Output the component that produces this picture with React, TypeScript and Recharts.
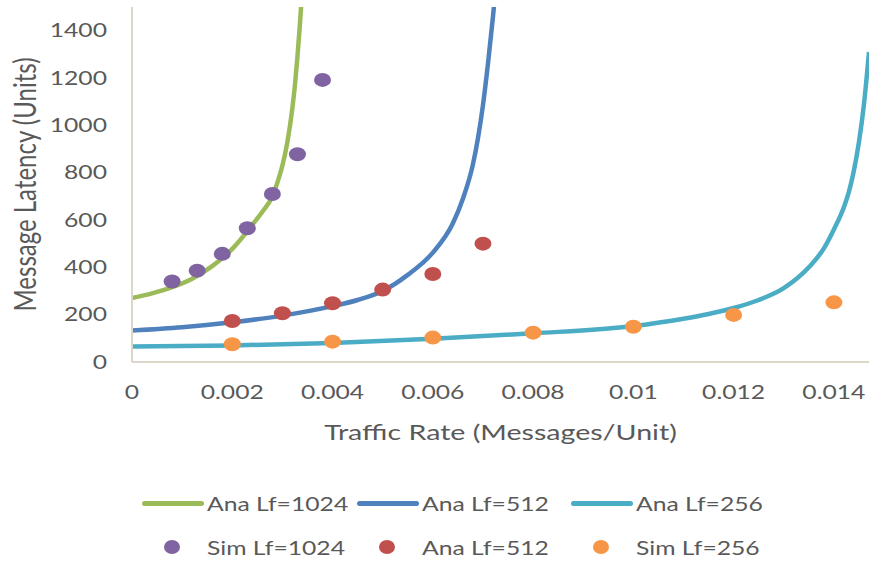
import React from 'react';
import { ComposedChart, Line, Scatter, XAxis, YAxis, Label } from 'recharts';

// axis ticks
const xTicks = [0, 0.002, 0.004, 0.006, 0.008, 0.01, 0.012, 0.014];
const yTicks = [0, 200, 400, 600, 800, 1000, 1200, 1400];

// analytical curves
const ana1024X = [0, 0.0004, 0.0008, 0.0012, 0.0016, 0.002, 0.0024, 0.0026, 0.0028, 0.0029, 0.003, 0.0031, 0.0032, 0.00325, 0.0033, 0.00335, 0.0034];
const ana1024Y = [270, 290, 316, 352, 405, 478, 580, 635, 700, 758, 830, 930, 1075, 1170, 1290, 1430, 1590];

const ana512X = [0, 0.001, 0.002, 0.003, 0.004, 0.0045, 0.005, 0.0055, 0.006, 0.0064, 0.0066, 0.0068, 0.0069, 0.007, 0.0071, 0.0072, 0.00725];
const ana512Y = [133, 147, 168, 196, 236, 262, 300, 368, 462, 586, 690, 835, 945, 1085, 1260, 1460, 1570];

const ana256X = [0, 0.002, 0.004, 0.006, 0.008, 0.01, 0.011, 0.0115, 0.012, 0.0125, 0.013, 0.0135, 0.0138, 0.014, 0.0142, 0.0143, 0.0144, 0.0145, 0.0146, 0.0147];
const ana256Y = [65, 70, 80, 98, 121, 152, 183, 203, 228, 262, 312, 400, 480, 560, 655, 720, 810, 930, 1090, 1310];

// simulation points
const sim1024X = [0.0008, 0.0013, 0.0018, 0.0023, 0.0028, 0.0033, 0.0038];
const sim1024Y = [340, 386, 457, 565, 710, 878, 1192];

const sim512X = [0.002, 0.003, 0.004, 0.005, 0.006, 0.007];
const sim512Y = [173, 206, 248, 306, 372, 500];

const sim256X = [0.002, 0.004, 0.006, 0.008, 0.01, 0.012, 0.014];
const sim256Y = [75, 86, 103, 124, 149, 199, 252];

const pairs = (xs: number[], ys: number[]) => xs.map((x, i) => ({ x, y: ys[i] }));

const TXT = '#595959';
const FONT = 'Lato, "Open Sans", sans-serif';
const SX = 1.3; // the original text is stretched sideways

const GREEN = '#9BBB59';
const BLUE = '#4F81BD';
const CYAN = '#4BACC6';
const PURPLE = '#8064A2';
const RED = '#C0504D';
const ORANGE = '#F79646';

const XTick = (props: any) => {
  const { x, y, payload } = props;
  return (
    <g transform={`translate(${x},${y}) scale(${SX},1)`}>
      <text x={0} y={0} dy="0.71em" textAnchor="middle" fill={TXT} fontSize={19} fontFamily={FONT}>
        {String(payload.value)}
      </text>
    </g>
  );
};

const YTick = (props: any) => {
  const { x, y, payload } = props;
  return (
    <g transform={`translate(${x},${y}) scale(${SX},1)`}>
      <text x={0} y={0} dy="0.35em" textAnchor="end" fill={TXT} fontSize={19} fontFamily={FONT}>
        {String(payload.value)}
      </text>
    </g>
  );
};

const XTitle = (props: any) => {
  const vb = props.viewBox;
  return (
    <g transform={`translate(${vb.x + vb.width / 2},${vb.y + 78}) scale(${SX},1)`}>
      <text x={0} y={0} textAnchor="middle" fill={TXT} fontSize={22} fontFamily={FONT}>
        Traffic Rate (Messages/Unit)
      </text>
    </g>
  );
};

const YTitle = (props: any) => {
  const vb = props.viewBox;
  return (
    <g transform={`translate(${vb.x + 25},${vb.y + vb.height / 2}) scale(${SX},1) rotate(-90)`}>
      <text x={0} y={0} dy="0.35em" textAnchor="middle" fill={TXT} fontSize={24} fontFamily={FONT}>
        Message Latency (Units)
      </text>
    </g>
  );
};

const dotShape = (fill: string) => (props: any) => (
  <ellipse cx={props.cx} cy={props.cy} rx={8.5} ry={7} fill={fill} />
);

const legendRows = [
  [
    { kind: 'line', color: GREEN, label: 'Ana Lf=1024', left: 142 },
    { kind: 'line', color: BLUE, label: 'Ana Lf=512', left: 357 },
    { kind: 'line', color: CYAN, label: 'Ana Lf=256', left: 571 },
  ],
  [
    { kind: 'dot', color: PURPLE, label: 'Sim Lf=1024', left: 142 },
    { kind: 'dot', color: RED, label: 'Ana Lf=512', left: 357 },
    { kind: 'dot', color: ORANGE, label: 'Sim Lf=256', left: 571 },
  ],
];

export default function App() {
  return (
    <div style={{ position: 'absolute', left: 0, top: 0, width: 869, height: 565, background: '#fff' }}>
      <ComposedChart width={869} height={565} margin={{ top: 7, right: 0, bottom: 123, left: 0 }}>
        <XAxis
          type="number"
          dataKey="x"
          domain={[0, 0.0147]}
          ticks={xTicks}
          allowDataOverflow
          tickLine={false}
          tickSize={0}
          tickMargin={24}
          height={80}
          axisLine={{ stroke: '#dcd8c9', strokeWidth: 2 }}
          tick={<XTick />}
        >
          <Label content={<XTitle />} />
        </XAxis>
        <YAxis
          type="number"
          dataKey="y"
          domain={[0, 1500]}
          ticks={yTicks}
          allowDataOverflow
          tickLine={false}
          tickSize={0}
          tickMargin={25}
          width={132}
          axisLine={{ stroke: '#dcd8c9', strokeWidth: 2 }}
          tick={<YTick />}
        >
          <Label content={<YTitle />} />
        </YAxis>
        <Line data={pairs(ana1024X, ana1024Y)} dataKey="y" type="monotone" stroke={GREEN} strokeWidth={4.5} dot={false} activeDot={false} isAnimationActive={false} />
        <Line data={pairs(ana512X, ana512Y)} dataKey="y" type="monotone" stroke={BLUE} strokeWidth={4.5} dot={false} activeDot={false} isAnimationActive={false} />
        <Line data={pairs(ana256X, ana256Y)} dataKey="y" type="monotone" stroke={CYAN} strokeWidth={4.5} dot={false} activeDot={false} isAnimationActive={false} />
        <Scatter data={pairs(sim1024X, sim1024Y)} dataKey="y" fill={PURPLE} shape={dotShape(PURPLE)} isAnimationActive={false} />
        <Scatter data={pairs(sim512X, sim512Y)} dataKey="y" fill={RED} shape={dotShape(RED)} isAnimationActive={false} />
        <Scatter data={pairs(sim256X, sim256Y)} dataKey="y" fill={ORANGE} shape={dotShape(ORANGE)} isAnimationActive={false} />
      </ComposedChart>
      {legendRows.map((row, r) =>
        row.map((item) => (
          <div
            key={r + item.label}
            style={{ position: 'absolute', left: item.left, top: r === 0 ? 503 : 547, height: 0, display: 'flex', alignItems: 'center' }}
          >
            {item.kind === 'line' ? (
              <span style={{ display: 'inline-block', width: 62, height: 5, borderRadius: 3, background: item.color }} />
            ) : (
              <span style={{ display: 'inline-block', width: 62, height: 14, position: 'relative' }}>
                <span style={{ position: 'absolute', left: 22, top: 0, width: 16, height: 14, borderRadius: '50%', background: item.color }} />
              </span>
            )}
            <span
              style={{
                display: 'inline-block',
                marginLeft: 3,
                fontFamily: FONT,
                fontSize: 19,
                color: TXT,
                whiteSpace: 'nowrap',
                transform: `scaleX(${SX})`,
                transformOrigin: 'left center',
              }}
            >
              {item.label}
            </span>
          </div>
        ))
      )}
    </div>
  );
}
